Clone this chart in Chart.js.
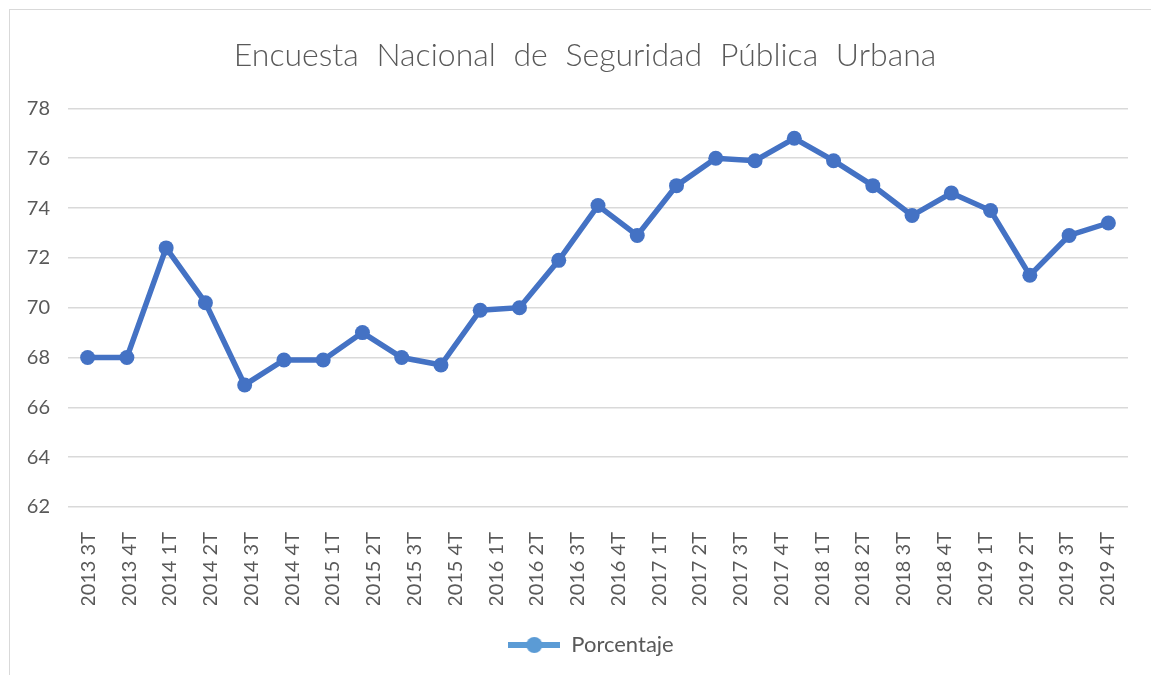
<!DOCTYPE html>
<html>
<head>
<meta charset="utf-8">
<script src="https://cdn.jsdelivr.net/npm/chart.js@4.4.0/dist/chart.umd.min.js"></script>
<style>
  html, body { margin: 0; padding: 0; background: #fff; overflow: hidden; }
  #marco { position: absolute; left: 9px; top: 9px; width: 1200px; height: 720px; border: 1px solid #d9d9d9; }
  #grafica { position: absolute; left: 10px; top: 10px; }
</style>
</head>
<body>
<div id="marco"></div>
<canvas id="grafica" width="1150" height="670"></canvas>
<script>
// etiquetas visibles del eje (26) y trimestres de la serie (27 puntos)
const etiquetas = [
    '2013 3T', '2013 4T',
    '2014 1T', '2014 2T', '2014 3T', '2014 4T',
    '2015 1T', '2015 2T', '2015 3T', '2015 4T',
    '2016 1T', '2016 2T', '2016 3T', '2016 4T',
    '2017 1T', '2017 2T', '2017 3T', '2017 4T',
    '2018 1T', '2018 2T', '2018 3T', '2018 4T',
    '2019 1T', '2019 2T', '2019 3T', '2019 4T'
];
const trimestres = etiquetas.concat(['2020 1T']);
const porcentaje = [
    68.0, 68.0, 72.4, 70.2, 66.9, 67.9, 67.9, 69.0, 68.0, 67.7,
    69.9, 70.0, 71.9, 74.1, 72.9, 74.9, 76.0, 75.9, 76.8, 75.9,
    74.9, 73.7, 74.6, 73.9, 71.3, 72.9, 73.4
];
const titulo = 'Encuesta Nacional de Seguridad Pública Urbana';

const gris = '#595959';
const azul = '#4472C4';

// icono de la leyenda: linea con punto
const icono = document.createElement('canvas');
icono.width = 52;
icono.height = 18;
(function () {
    const c = icono.getContext('2d');
    c.strokeStyle = '#5B9BD5';
    c.lineWidth = 6;
    c.beginPath();
    c.moveTo(0, 9);
    c.lineTo(52, 9);
    c.stroke();
    c.fillStyle = '#5B9BD5';
    c.beginPath();
    c.arc(26, 9, 8, 0, Math.PI * 2);
    c.fill();
})();

const ctx = document.getElementById('grafica').getContext('2d');
const chart = new Chart(ctx, {
    type: 'line',
    data: {
        labels: trimestres,
        datasets: [{
            label: 'Porcentaje',
            data: porcentaje,
            xAxisID: 'x',
            borderColor: azul,
            backgroundColor: azul,
            borderWidth: 5.5,
            pointRadius: 7.5,
            pointBorderWidth: 0,
            pointBackgroundColor: azul,
            tension: 0,
            fill: false
        }]
    },
    options: {
        responsive: false,
        animation: false,
        layout: { padding: { left: 0, right: 32, top: 0, bottom: 14 } },
        plugins: {
            title: {
                display: true,
                text: titulo,
                color: gris,
                font: { family: 'Lato', size: 32, weight: '300' },
                padding: { top: 26, bottom: 34 }
            },
            legend: {
                position: 'bottom',
                labels: {
                    usePointStyle: true,
                    pointStyleWidth: 52,
                    color: gris,
                    font: { family: 'Lato', size: 22 },
                    padding: 29,
                    generateLabels: (c) => [{
                        text: c.data.datasets[0].label,
                        pointStyle: icono,
                        fontColor: gris,
                        lineWidth: 0,
                        hidden: false,
                        datasetIndex: 0
                    }]
                }
            },
            tooltip: { enabled: false }
        },
        scales: {
            x: {
                type: 'category',
                display: false,
                offset: true
            },
            xEtiquetas: {
                type: 'category',
                labels: etiquetas,
                position: 'bottom',
                offset: true,
                afterFit: (scale) => { scale.height = 98; },
                grid: { display: false, drawTicks: false },
                border: { display: false },
                ticks: {
                    color: gris,
                    font: { family: 'Lato', size: 20 },
                    minRotation: 90,
                    maxRotation: 90,
                    autoSkip: false,
                    padding: 25
                }
            },
            y: {
                min: 62,
                max: 78,
                afterFit: (scale) => { scale.width = 58; },
                grid: { color: '#d9d9d9', lineWidth: 1.5, drawTicks: false },
                border: { display: false },
                ticks: {
                    stepSize: 2,
                    color: gris,
                    font: { family: 'Lato', size: 20 },
                    padding: 18
                }
            }
        }
    }
});

// titulo y leyenda del original: centrados algo mas a la derecha,
// y el titulo con mas espacio entre palabras
function desplazar(caja, dx, espacio) {
    const dibujar = caja.draw;
    caja.draw = function () {
        const c = this.ctx;
        c.save();
        c.translate(dx, 0);
        if (espacio) c.wordSpacing = espacio;
        dibujar.apply(this, arguments);
        c.restore();
    };
}
desplazar(chart.titleBlock, 16, '9px');
desplazar(chart.legend, 22);
chart.draw();
</script>
</body>
</html>
